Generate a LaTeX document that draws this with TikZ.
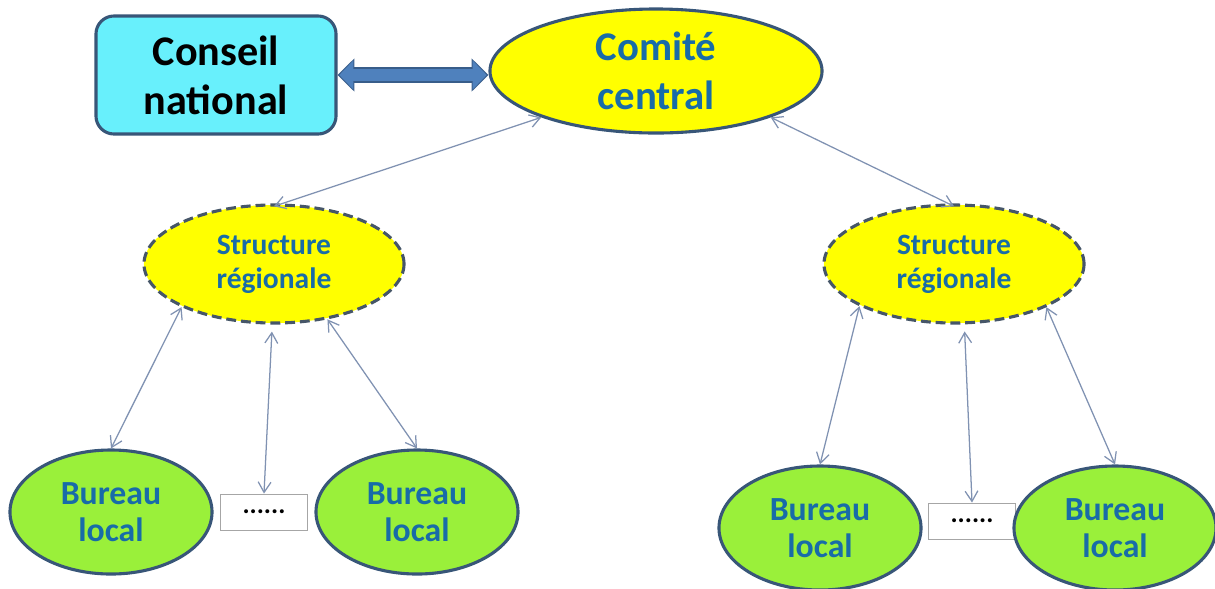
\documentclass[tikz,border=0pt]{standalone}
\usepackage{fontspec}
\setmainfont{Carlito}
\usetikzlibrary{shapes.geometric}
\usetikzlibrary{arrows.meta}
\definecolor{cyanfill}{RGB}{104,240,252}
\definecolor{yellowfill}{RGB}{255,255,0}
\definecolor{greenfill}{RGB}{154,240,58}
\definecolor{edgeblue}{RGB}{56,86,120}
\definecolor{dashgray}{RGB}{70,86,104}
\definecolor{textblue}{RGB}{24,108,168}
\definecolor{linkgray}{RGB}{128,146,178}
\definecolor{arrowblue}{RGB}{79,129,189}
\definecolor{arrowedge}{RGB}{56,93,138}
\tikzstyle{council}=[draw=edgeblue,line width=2.2pt,fill=cyanfill,rounded corners=0.45cm,minimum width=6.0cm,minimum height=2.95cm,align=center,font=\fontsize{30}{35}\selectfont\bfseries]
\tikzstyle{committee}=[ellipse,draw=edgeblue,line width=2.2pt,fill=yellowfill,inner sep=0pt,minimum width=8.3cm,minimum height=3.1cm,align=center,text=textblue,font=\fontsize{29}{35}\selectfont\bfseries]
\tikzstyle{regional}=[ellipse,draw=dashgray,line width=2.2pt,dash pattern=on 7pt off 3.5pt,fill=yellowfill,inner sep=0pt,minimum width=6.5cm,minimum height=2.95cm,align=center,text=textblue,font=\fontsize{21}{24}\selectfont\bfseries]
\tikzstyle{office}=[ellipse,draw=edgeblue,line width=2.2pt,fill=greenfill,inner sep=0pt,minimum width=5.05cm,minimum height=3.1cm,align=center,text=textblue,font=\fontsize{24}{26.5}\selectfont\bfseries]
\tikzstyle{dotsbox}=[draw=gray!70,line width=0.6pt,fill=white,minimum width=2.18cm,minimum height=0.9cm,font=\fontsize{19}{20}\selectfont\bfseries]
\tikzstyle{link}=[draw=linkgray,line width=0.9pt,{Straight Barb[length=2.6mm,width=3.2mm]}-{Straight Barb[length=2.6mm,width=3.2mm]}]
\begin{document}
\begin{tikzpicture}[x=0.025cm,y=-0.025cm]
\useasboundingbox (0,0) rectangle (1215,588);
% top level
\node[council] (cn) at (216,75) {Conseil\\national};
\node[committee] (cc) at (656,71) {Comité\\central};
\draw[line width=11pt,arrowedge,{Triangle[length=12pt,width=23pt]}-{Triangle[length=12pt,width=23pt]}] (cn.east) -- (cn.east -| cc.west);
\draw[line width=8pt,arrowblue,shorten <=1.2pt,shorten >=1.2pt,{Triangle[length=10pt,width=20pt]}-{Triangle[length=10pt,width=20pt]}] (cn.east) -- (cn.east -| cc.west);
% regional structures
\node[regional] (srl) at (274,264) {Structure\\régionale};
\node[regional] (srr) at (954,264) {Structure\\régionale};
\draw[link] (cc.202) -- ([yshift=-2pt]srl.north);
\draw[link] (cc.-22) -- ([yshift=-2pt]srr.north);
% local offices, left
\node[office] (bl1) at (111,512) {Bureau\\local};
\node[dotsbox] (dl) at (264,512) {......};
\node[office] (bl2) at (417,512) {Bureau\\local};
\draw[link] (srl.-155) -- (bl1.north);
\draw[link] ([yshift=-5pt]srl.-92) -- (dl.north);
\draw[link] (srl.-46) -- (bl2.north);
% local offices, right
\node[office] (br1) at (820,528) {Bureau\\local};
\node[dotsbox] (dr) at (972,521) {......};
\node[office] (br2) at (1115,528) {Bureau\\local};
\draw[link] (srr.-156) -- (br1.north);
\draw[link] ([yshift=-5pt]srr.-80) -- (dr.north);
\draw[link] (srr.-25) -- (br2.north);
\end{tikzpicture}
\end{document}
